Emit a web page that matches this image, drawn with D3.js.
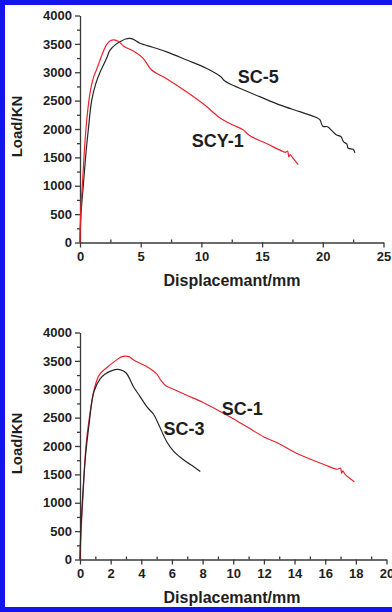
<!DOCTYPE html>
<html lang="en">
	<head>
		<meta charset="utf-8">
		<title>Load-displacement curves</title>
		<script type="text/javascript" src="https://cdn.jsdelivr.net/npm/d3@7"></script>
		<style type="text/css">
			body { margin: 0; background: #fff; }
			text { font-family: "Liberation Sans", Arial, sans-serif; font-weight: bold; fill: #1e1e1e; }
			.axis path, .axis line { stroke: #3a3a3a; stroke-width: 1.3; }
		</style>
	</head>
	<body>
		<script type="text/javascript">
			// Top panel: SC-5 and SCY-1
			var sc5 = [[0,0],[0.08,500],[0.27,1000],[0.5,1600],[0.69,2000],[0.96,2500],[1.3,2800],[1.65,3000],
				[2.2,3250],[2.47,3390],[3.0,3500],[3.4,3550],[3.75,3585],[4.1,3598],[4.4,3580],[4.94,3510],
				[6.0,3440],[7.14,3360],[8.8,3215],[10.4,3070],[11.6,2920],[11.9,2850],[12.6,2770],[14.8,2570],
				[16.5,2420],[18.1,2305],[19.5,2200],[19.77,2160],[20.0,2050],[20.4,2040],[20.7,1980],[21.1,1900],
				[21.5,1864],[21.7,1776],[21.97,1736],[22.1,1660],[22.5,1642],[22.65,1580]];
			var scy1 = [[0,0],[0.05,500],[0.19,1000],[0.49,2000],[0.8,2600],[1.1,2900],[1.37,3050],[1.8,3300],
				[2.2,3490],[2.5,3555],[2.8,3570],[3.16,3545],[3.6,3460],[4.5,3360],[5.2,3245],[5.9,3040],
				[7.1,2890],[8.8,2650],[10.4,2400],[11.5,2200],[12.6,2070],[13.4,1990],[14.0,1880],[15.4,1740],
				[16.75,1600],[16.95,1590],[17.1,1610],[17.2,1510],[17.3,1550],[17.5,1500],[17.98,1370]];

			// Bottom panel: SC-1 and SC-3
			var sc1 = [[0,0],[0.07,500],[0.17,1000],[0.39,2000],[0.61,2500],[0.93,3000],[1.25,3250],[1.74,3380],
				[2.3,3500],[2.7,3570],[2.95,3585],[3.2,3575],[3.5,3515],[4.35,3400],[5.0,3270],[5.3,3150],
				[5.6,3060],[6.1,3000],[7.0,2890],[8.0,2770],[9.0,2630],[10.0,2480],[11.0,2320],[12.0,2160],
				[13.0,2040],[14.0,1890],[15.0,1770],[16.0,1665],[16.8,1590],[17.0,1610],[17.07,1520],
				[17.15,1560],[17.3,1500],[17.9,1370]];
			var sc3 = [[0,0],[0.05,500],[0.15,1000],[0.35,1800],[0.6,2400],[0.9,2950],[1.3,3180],[1.6,3260],
				[2.0,3320],[2.4,3350],[2.6,3345],[3.0,3290],[3.5,3040],[3.9,2880],[4.4,2680],[4.8,2560],
				[5.2,2340],[5.65,2080],[6.1,1910],[6.5,1810],[7.0,1710],[7.4,1640],[7.85,1550]];

			var yTicks = [0,500,1000,1500,2000,2500,3000,3500,4000];
			var topXTicks = [0,5,10,15,20,25];
			var bottomXTicks = [0,2,4,6,8,10,12,14,16,18,20];

			var w = 392;
			var h = 612;

			var svg = d3.select("body")
						.append("svg")
						.attr("width", w)
						.attr("height", h);

			// Blue frame (left, top, bottom)
			svg.append("rect").attr("x", 0).attr("y", 0).attr("width", w).attr("height", 5).attr("fill", "#1414ee");
			svg.append("rect").attr("x", 0).attr("y", 0).attr("width", 5).attr("height", h).attr("fill", "#1414ee");
			svg.append("rect").attr("x", 0).attr("y", 607).attr("width", w).attr("height", 5).attr("fill", "#1414ee");

			function drawPanel(p) {
				var x = d3.scaleLinear().domain([0, p.xMax]).range([80, p.xRight]);
				var y = d3.scaleLinear().domain([0, 4000]).range([p.yBottom, p.yBottom - 227]);
				var g = svg.append("g");

				// minor ticks
				var xMinor = d3.range(p.xStep / 2, p.xMax, p.xStep);
				g.append("g").attr("class", "axis")
					.attr("transform", "translate(0," + p.yBottom + ")")
					.call(d3.axisBottom(x).tickValues(xMinor).tickSize(-3).tickFormat(""))
					.select(".domain").remove();
				g.append("g").attr("class", "axis")
					.attr("transform", "translate(80,0)")
					.call(d3.axisLeft(y).tickValues(d3.range(250, 4000, 500)).tickSize(3).tickFormat(""))
					.select(".domain").remove();

				// main axes
				var xa = g.append("g").attr("class", "axis")
					.attr("transform", "translate(0," + p.yBottom + ")")
					.call(d3.axisBottom(x).tickValues(p.xTicks).tickSize(5).tickPadding(4)
						.tickSizeOuter(0).tickFormat(d3.format("d")));
				xa.selectAll("text").style("font-size", "13px").attr("fill", "#1e1e1e");

				var ya = g.append("g").attr("class", "axis")
					.attr("transform", "translate(80,0)")
					.call(d3.axisLeft(y).tickValues(yTicks).tickSize(5).tickPadding(3)
						.tickSizeOuter(0).tickFormat(d3.format("d")));
				ya.selectAll("text").style("font-size", "13px").attr("fill", "#1e1e1e");

				var line = d3.line()
					.x(function(d) { return x(d[0]); })
					.y(function(d) { return y(d[1]); })
					.curve(d3.curveCatmullRom.alpha(0.5));

				p.series.forEach(function(s) {
					g.append("path")
						.datum(s.data)
						.attr("d", line)
						.attr("fill", "none")
						.attr("stroke", s.color)
						.attr("stroke-width", 1.2);
					g.append("text")
						.attr("x", x(s.lx))
						.attr("y", y(s.ly))
						.style("font-size", "18px")
						.text(s.name);
				});

				// axis titles
				g.append("text")
					.attr("x", 232)
					.attr("y", p.yBottom + 43)
					.attr("text-anchor", "middle")
					.style("font-size", "16px")
					.text("Displacemant/mm");
				g.append("text")
					.attr("transform", "translate(22," + (p.yBottom - 116) + ") rotate(-90)")
					.attr("text-anchor", "middle")
					.style("font-size", "15px")
					.text("Load/KN");
			}

			drawPanel({
				xMax: 25, xRight: 383.5, xStep: 5, xTicks: topXTicks, yBottom: 242.5,
				series: [
					{ name: "SC-5", data: sc5, color: "#262626", lx: 13, ly: 2810 },
					{ name: "SCY-1", data: scy1, color: "#e8232e", lx: 9.2, ly: 1690 }
				]
			});

			drawPanel({
				xMax: 20, xRight: 386.5, xStep: 2, xTicks: bottomXTicks, yBottom: 559.5,
				series: [
					{ name: "SC-1", data: sc1, color: "#e8232e", lx: 9.25, ly: 2540 },
					{ name: "SC-3", data: sc3, color: "#262626", lx: 5.45, ly: 2190 }
				]
			});
		</script>
	</body>
</html>
